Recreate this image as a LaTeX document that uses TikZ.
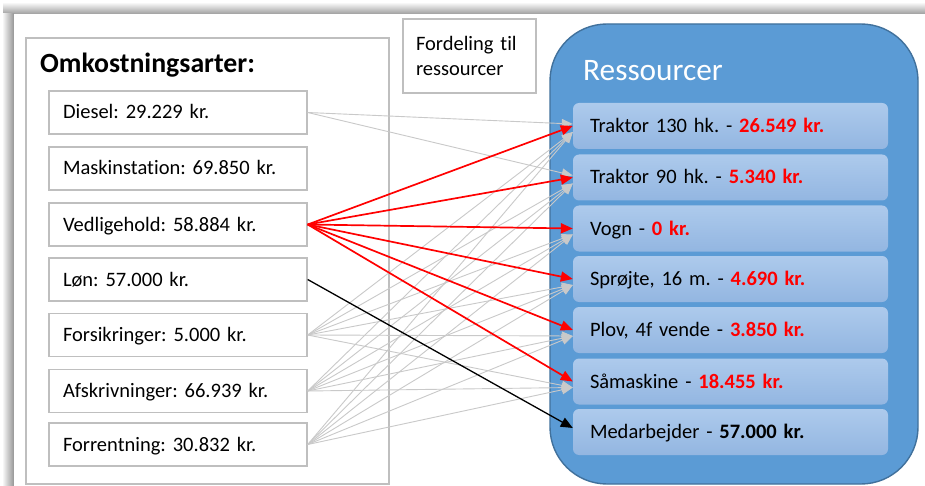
\documentclass[tikz,border=0pt]{standalone}
\usepackage{fontspec}
\setmainfont{Carlito}[Ligatures={NoCommon}]
\usetikzlibrary{arrows.meta}
\definecolor{boxgray}{HTML}{BFBFBF}
\definecolor{linegray}{HTML}{C9C9C9}
\definecolor{bigblue}{HTML}{5B9BD5}
\definecolor{bigborder}{HTML}{41719C}
\definecolor{restop}{HTML}{ADCAEC}
\definecolor{resbot}{HTML}{93B6E1}
\definecolor{redtxt}{HTML}{FF0000}
\frenchspacing
\begin{document}
\begin{tikzpicture}[x=1pt,y=-1pt,
  itembox/.style={draw=boxgray,line width=1.4pt,fill=white,rectangle,minimum width=258pt,minimum height=43pt,
    inner xsep=14pt,text width=230pt,align=left,font=\fontsize{20.5}{24}\selectfont,text height=13pt,text depth=0pt},
  resbox/.style={rectangle,rounded corners=6pt,top color=restop,bottom color=resbot,draw=none,minimum width=315pt,minimum height=46pt,
    inner xsep=17pt,text width=281pt,align=left,font=\fontsize{20.5}{24}\selectfont,text height=13pt,text depth=0pt},
  graylink/.style={draw=linegray,line width=0.9pt,-{Triangle[length=11pt,width=9pt]}},
  redlink/.style={draw=redtxt,line width=1.7pt,-{Triangle[length=12pt,width=10pt]}},
  blacklink/.style={draw=black,line width=1.3pt,-{Triangle[length=12pt,width=10pt]}}
]
\useasboundingbox (0,0) rectangle (925,486);
\fill[white] (0,0) rectangle (925,486);
% shadow of the panel
\shade[top color=white,bottom color=black!38] (3,2) rectangle (925,14);
\shade[left color=white,right color=black!42] (2,14) rectangle (14,486);
\fill[white] (14,14) rectangle (925,486);

% left frame
\node[draw=boxgray,line width=1.4pt,rectangle,minimum width=363pt,minimum height=446pt,inner sep=0pt] (omk) at (207.5,261) {};
\node[anchor=base west,inner sep=0pt,font=\fontsize{27.8}{30}\selectfont\bfseries] (omktitle) at (40,72.5) {Omkostningsarter:};

% Fordeling box
\node[draw=boxgray,line width=1.4pt,rectangle,minimum width=133pt,minimum height=74pt,inner xsep=13pt,text width=107pt,align=left,
  font=\fontsize{20.5}{25}\selectfont] (ford) at (469.5,56) {Fordeling til\\ressourcer};

% big resource box
\node[draw=bigborder,fill=bigblue,line width=1.4pt,rectangle,rounded corners=57pt,minimum width=368pt,minimum height=460pt,inner sep=0pt] (res) at (734,254) {};
\node[anchor=base west,inner sep=0pt,text=white,font=\fontsize{31.3}{34}\selectfont] (restitle) at (583,81) {Ressourcer};

% items
\node[itembox] (i1) at (178,112.5) {Diesel: 29.229 kr.};
\node[itembox] (i2) at (178,168.5) {Maskinstation: 69.850 kr.};
\node[itembox] (i3) at (178,224.5) {Vedligehold: 58.884 kr.};
\node[itembox] (i4) at (178,279.5) {Løn: 57.000 kr.};
\node[itembox] (i5) at (178,335) {Forsikringer: 5.000 kr.};
\node[itembox] (i6) at (178,391) {Afskrivninger: 66.939 kr.};
\node[itembox] (i7) at (178,444.5) {Forrentning: 30.832 kr.};

% resources
\node[resbox] (r1) at (730.5,126) {Traktor 130 hk. - \textbf{\color{redtxt}26.549 kr.}};
\node[resbox] (r2) at (730.5,177.5) {Traktor 90 hk. - \textbf{\color{redtxt}5.340 kr.}};
\node[resbox] (r3) at (730.5,228.5) {Vogn - \textbf{\color{redtxt}0 kr.}};
\node[resbox] (r4) at (730.5,279) {Sprøjte, 16 m. - \textbf{\color{redtxt}4.690 kr.}};
\node[resbox] (r5) at (730.5,330) {Plov, 4f vende - \textbf{\color{redtxt}3.850 kr.}};
\node[resbox] (r6) at (730.5,381.5) {Såmaskine - \textbf{\color{redtxt}18.455 kr.}};
\node[resbox] (r7) at (730.5,432) {Medarbejder - \textbf{57.000 kr.}};

% gray links
\draw[graylink] (i1.east) -- ([yshift=2pt]r1.west);
\draw[graylink] (i1.east) -- ([yshift=2pt]r2.west);
\foreach \s in {i5,i6,i7}{
  \foreach \t in {r1,r2,r3,r4,r5,r6}{
    \draw[graylink] (\s.east) -- ([yshift=-6pt]\t.west);
  }
}
% red links
\foreach \t in {r1,r2,r3,r4,r5,r6}{
  \draw[redlink] (i3.east) -- (\t.west);
}
% black link
\draw[blacklink] (i4.east) -- ([yshift=4pt]r7.west);
\end{tikzpicture}
\end{document}
